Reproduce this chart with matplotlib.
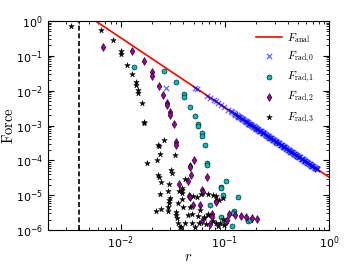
import matplotlib
matplotlib.use("Agg")
import matplotlib.pyplot as plt

plt.rcParams['mathtext.fontset'] = 'cm'

# analytic line (two end points of F = A / r^2)
r_anal = [0.004, 1.0]
F_anal = [2.06, 3.3e-5]

# F_rad,0 (blue crosses)
r_rad0 = [0.0271, 0.0515, 0.0542, 0.068, 0.0718, 0.079, 0.0818, 0.0863, 0.0927, 0.0985,
          0.1077, 0.114, 0.118,
          0.122, 0.124, 0.126, 0.13, 0.133, 0.135, 0.14, 0.1425, 0.145, 0.15, 0.153, 0.156,
          0.159, 0.162, 0.165, 0.168, 0.171, 0.175, 0.178, 0.182, 0.186, 0.19, 0.193, 0.197,
          0.201, 0.205, 0.209, 0.213, 0.217, 0.221, 0.225, 0.23, 0.234, 0.239, 0.243, 0.248,
          0.253, 0.258, 0.263, 0.268, 0.273, 0.279, 0.284, 0.29, 0.295, 0.301, 0.307, 0.313,
          0.319, 0.325, 0.331, 0.338, 0.344, 0.351, 0.358, 0.365, 0.372, 0.379, 0.386, 0.394,
          0.402, 0.41, 0.418, 0.426, 0.434, 0.442, 0.451, 0.46, 0.469, 0.478, 0.487, 0.497,
          0.506, 0.516, 0.526, 0.537, 0.547, 0.558, 0.569, 0.58, 0.591, 0.603, 0.615, 0.627,
          0.639, 0.652, 0.665, 0.678, 0.691, 0.705, 0.719, 0.733, 0.747, 0.762, 0.775,
          0.137, 0.147, 0.158, 0.169, 0.18, 0.195, 0.207, 0.219, 0.232, 0.246,
          0.261, 0.276, 0.292, 0.31, 0.328, 0.347, 0.368, 0.39, 0.413, 0.438,
          0.464, 0.491, 0.52, 0.551, 0.584, 0.618, 0.655, 0.693, 0.735, 0.77]
F_rad0 = [0.0123, 0.0118, 0.0109, 0.0069, 0.0062, 0.0054, 0.0049, 0.0045, 0.0038, 0.0035,
          0.0028, 0.0026, 0.0024,
          2.28e-3, 2.10e-3, 2.02e-3, 1.99e-3, 1.90e-3, 1.76e-3, 1.72e-3, 1.60e-3, 1.54e-3, 1.50e-3, 1.43e-3, 1.33e-3,
          1.28e-3, 1.29e-3, 1.23e-3, 1.14e-3, 1.11e-3, 1.11e-3, 1.05e-3, 9.7e-4, 9.35e-4, 9.4e-4, 8.95e-4, 8.3e-4,
          8.05e-4, 8.0e-4, 7.65e-4, 7.1e-4, 6.9e-4, 6.9e-4, 6.6e-4, 6.1e-4, 5.9e-4, 5.9e-4, 5.65e-4, 5.25e-4,
          5.1e-4, 5.05e-4, 4.83e-4, 4.5e-4, 4.35e-4, 4.33e-4, 4.13e-4, 3.84e-4, 3.72e-4, 3.71e-4, 3.55e-4, 3.30e-4,
          3.18e-4, 3.18e-4, 3.05e-4, 2.83e-4, 2.74e-4, 2.73e-4, 2.61e-4, 2.43e-4, 2.35e-4, 2.35e-4, 2.24e-4, 2.09e-4,
          2.0e-4, 2.0e-4, 1.91e-4, 1.78e-4, 1.72e-4, 1.72e-4, 1.64e-4, 1.53e-4, 1.48e-4, 1.47e-4, 1.41e-4, 1.31e-4,
          1.27e-4, 1.26e-4, 1.21e-4, 1.12e-4, 1.09e-4, 1.08e-4, 1.03e-4, 9.6e-5, 9.3e-5, 9.25e-5, 8.85e-5, 8.2e-5,
          7.95e-5, 7.9e-5, 7.55e-5, 7.05e-5, 6.8e-5, 6.75e-5, 6.45e-5, 6.0e-5, 5.85e-5, 5.8e-5, 5.55e-5,
          1.80e-3, 1.50e-3, 1.34e-3, 1.14e-3, 1.03e-3, 8.6e-4, 7.8e-4, 6.8e-4, 6.2e-4, 5.4e-4,
          4.9e-4, 4.3e-4, 3.9e-4, 3.4e-4, 3.1e-4, 2.7e-4, 2.45e-4, 2.15e-4, 1.95e-4, 1.70e-4,
          1.55e-4, 1.36e-4, 1.23e-4, 1.08e-4, 9.7e-5, 8.6e-5, 7.7e-5, 6.85e-5, 6.1e-5, 5.6e-5]

# F_rad,1 (cyan circles)
r_rad1 = [0.0135, 0.0259, 0.034, 0.0406, 0.0406, 0.0464, 0.0515, 0.0557, 0.0557, 0.0601,
          0.0601, 0.0643, 0.068, 0.068, 0.103, 0.0908, 0.0927, 0.133, 0.0949, 0.0718,
          0.0913, 0.123, 0.120, 0.166, 0.173, 0.0996, 0.102, 0.1167]
F_rad1 = [0.0469, 0.036, 0.0177, 0.0079, 0.0065, 0.0034, 0.0019, 0.00113, 0.00097, 6.0e-4,
          5.0e-4, 2.7e-4, 8.2e-5, 7.2e-5, 2.55e-5, 1.75e-5, 1.64e-5, 8.7e-6, 9.9e-6, 5.2e-6,
          2.44e-6, 3.4e-6, 3.0e-6, 1.77e-6, 2.0e-6, 1.56e-6, 1.8e-6, 1.3e-6]

# F_rad,2 (magenta diamonds)
r_rad2 = [0.00668, 0.0129, 0.0169, 0.0201, 0.0201, 0.0231, 0.0256, 0.0278, 0.0278, 0.0299,
          0.0299, 0.0321, 0.0338, 0.0338, 0.051, 0.036, 0.046, 0.046, 0.0474, 0.0671,
          0.0439, 0.0454, 0.0464, 0.0496, 0.0582, 0.0605, 0.0614, 0.083, 0.083, 0.0747,
          0.0747, 0.110, 0.1256, 0.142, 0.160, 0.181, 0.202, 0.0722, 0.0605, 0.1053]
F_rad2 = [0.183, 0.142, 0.0697, 0.0339, 0.0267, 0.0139, 0.00766, 0.00448, 0.00383, 0.00249,
          0.0020, 0.00108, 3.3e-4, 2.75e-4, 1.05e-4, 2.1e-5, 7.0e-5, 6.4e-5, 3.9e-5, 3.4e-5,
          2.6e-5, 9.6e-6, 8.7e-6, 5.3e-6, 5.2e-6, 1.45e-5, 1.25e-5, 7.0e-6, 6.2e-6, 2.9e-6,
          2.4e-6, 2.97e-6, 2.78e-6, 2.6e-6, 2.36e-6, 2.17e-6, 2.03e-6, 1.49e-6, 1.77e-6, 1.94e-6]

# F_rad,3 (black stars)
r_rad3 = [0.00333, 0.00647, 0.0085, 0.0101, 0.0101, 0.0115, 0.0128, 0.0139, 0.0139, 0.0148,
          0.0148, 0.0159, 0.0169, 0.0169, 0.0258, 0.0226, 0.0235, 0.0237, 0.0334, 0.0177,
          0.0222, 0.0228, 0.0232, 0.0304, 0.0309, 0.0244, 0.029, 0.0386, 0.0386, 0.0386,
          0.0237, 0.0283, 0.0298, 0.0292, 0.029, 0.0358, 0.0244, 0.0216, 0.0283, 0.0283,
          0.034, 0.034, 0.0345, 0.0358, 0.0372, 0.0415, 0.0366, 0.0492, 0.0542, 0.0596,
          0.0695, 0.0767, 0.083, 0.0964, 0.0388, 0.046, 0.0484, 0.0444, 0.0554, 0.0632,
          0.0665, 0.0767, 0.082, 0.0863, 0.069, 0.057, 0.0478, 0.0412, 0.0378, 0.0521,
          0.0964, 0.040, 0.0579, 0.0632, 0.0695, 0.087, 0.089, 0.097]
F_rad3 = [0.743, 0.552, 0.279, 0.140, 0.113, 0.0564, 0.0311, 0.0177, 0.0145, 0.0104,
          0.0083, 0.00434, 0.00128, 0.00116, 3.96e-4, 2.75e-4, 2.5e-4, 1.57e-4, 1.4e-4, 8.4e-5,
          9.9e-5, 3.8e-5, 3.25e-5, 5.45e-5, 4.2e-5, 2.4e-5, 2.05e-5, 1.64e-5, 1.4e-5, 1.13e-5,
          1.06e-5, 1.34e-5, 8.45e-6, 7.3e-6, 5.8e-6, 6.1e-6, 3.9e-6, 3.5e-6, 4.65e-6, 3.6e-6,
          3.35e-6, 2.7e-6, 2.16e-6, 1.56e-6, 1.24e-6, 2.85e-5, 1.32e-5, 9.5e-6, 8.7e-6, 1.08e-5,
          1.06e-5, 1.03e-5, 9.5e-6, 8.3e-6, 7.8e-6, 4.5e-6, 2.9e-6, 2.7e-6, 2.57e-6, 2.16e-6,
          1.49e-6, 1.77e-6, 1.62e-6, 1.33e-6, 2.88e-6, 1.59e-6, 1.56e-6, 1.56e-6, 1.19e-6, 1.19e-6,
          2.07e-6, 4.65e-6, 3.75e-6, 2.4e-6, 2.7e-6, 7.3e-6, 1.56e-6, 1.36e-6]

r_cut = 0.004

fig = plt.figure(figsize=(3.56, 2.68), dpi=100)
ax = fig.add_axes([0.1348, 0.1418, 0.7894, 0.7798])

ax.axvline(r_cut, color='k', lw=1.2, ls='--', dashes=(3, 1.6))
ax.plot(r_anal, F_anal, color='r', lw=1.2, label=r'$F_{\rm anal}$')
ax.scatter(r_rad0, F_rad0, marker='x', color='b', alpha=0.6, s=15, linewidths=0.9,
           label=r'$F_{\rm rad,0}$', zorder=3)
ax.scatter(r_rad1, F_rad1, marker='o', c='c', edgecolors='k', s=13, linewidths=0.4,
           label=r'$F_{\rm rad,1}$', zorder=3)
ax.scatter(r_rad2, F_rad2, marker='d', c='#a000a0', edgecolors='k', s=16, linewidths=0.4,
           label=r'$F_{\rm rad,2}$', zorder=3)
ax.scatter(r_rad3, F_rad3, marker='*', c='k', edgecolors='k', s=18, linewidths=0.3,
           label=r'$F_{\rm rad,3}$', zorder=3)

ax.set_xscale('log')
ax.set_yscale('log')
ax.set_xlim(0.002, 1.0)
ax.set_ylim(1e-6, 1.0)

ax.tick_params(which='both', direction='in', top=True, right=True, labelsize=8)
ax.tick_params(which='major', length=4)
ax.tick_params(which='minor', length=2)

ax.set_xlabel(r'$r$', fontsize=10.5)
ax.set_ylabel(r'$\mathrm{Force}$', fontsize=10.5)
ax.xaxis.set_label_coords(0.5, -0.09)
ax.yaxis.set_label_coords(-0.113, 0.5)

ax.legend(loc='upper right', bbox_to_anchor=(0.965, 0.975), frameon=False,
          scatterpoints=1, fontsize=8, handlelength=2.3, handletextpad=0.5,
          labelspacing=0.45, borderaxespad=0.0)

fig.savefig('out.png', dpi=100)
